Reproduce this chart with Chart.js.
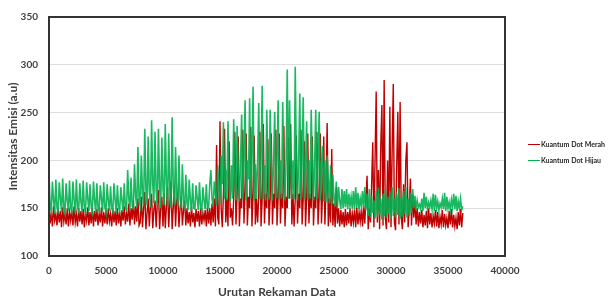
<!DOCTYPE html>
<html>
<head>
<meta charset="utf-8">
<script src="https://cdn.jsdelivr.net/npm/chart.js@4.4.1/dist/chart.umd.min.js"></script>
<style>
  html, body { margin:0; padding:0; background:#fff; }
  #wrap { position:relative; width:613px; height:302px; }
  canvas { position:absolute; left:0; top:0; }
  .leg { position:absolute; left:528px; font-family:Lato, "Open Sans", sans-serif; font-weight:700; font-size:7px; color:#262626; white-space:nowrap; line-height:10px; }
  .leg i { display:inline-block; width:12px; height:0; border-top:1.5px solid; vertical-align:middle; margin-right:1px; position:relative; top:-1px; }
</style>
</head>
<body>
<div id="wrap">
  <canvas id="c" width="613" height="302"></canvas>
  <div class="leg" style="top:139px"><i style="border-color:#C00000"></i>Kuantum Dot Merah</div>
  <div class="leg" style="top:155px"><i style="border-color:#00B050"></i>Kuantum Dot Hijau</div>
</div>
<script>
// ---- data (one value every 100 records) ----
const recordStep = 100;
const seriesNames = ["Kuantum Dot Merah", "Kuantum Dot Hijau"];
const xTicks = [0, 5000, 10000, 15000, 20000, 25000, 30000, 35000, 40000];
const yTicks = [100, 150, 200, 250, 300, 350];

const merah = [
150,134,146,131,152,137,144,132,149,135,147,130,151,136,145,133,150,131,146,137,
148,132,152,135,144,131,150,136,147,133,149,130,145,137,151,132,146,134,150,131,
147,136,149,132,145,135,151,131,146,134,148,133,150,136,144,131,149,135,147,132,
150,134,146,131,148,137,152,133,145,136,155,132,150,138,158,133,152,136,160,132,
135,162,130,150,167,128,145,160,131,152,165,129,148,158,130,155,169,128,150,162,
131,165,129,152,172,130,155,178,128,150,174,131,158,165,130,150,162,132,148,158,
132,150,134,146,131,152,135,145,130,149,136,147,131,150,133,145,137,148,131,151,
134,150,132,155,135,160,131,216,140,133,241,150,130,165,233,135,160,131,220,140,
150,132,160,230,133,165,225,131,160,150,232,134,168,228,132,162,150,235,131,165,
226,133,160,135,165,230,131,160,238,134,165,150,222,132,160,228,133,165,150,232,
132,160,228,134,165,150,236,131,162,150,224,160,238,133,165,131,160,226,134,165,
150,232,133,160,220,131,160,228,134,165,150,225,132,162,150,230,133,160,228,134,
165,225,133,170,239,131,160,135,212,132,155,130,172,134,150,131,148,133,146,130,
149,132,146,134,150,131,145,135,148,130,151,133,146,136,149,131,152,134,160,184,
128,150,135,175,219,130,200,272,135,190,128,215,258,132,284,140,128,200,135,256,
130,210,280,135,127,195,251,133,261,140,128,175,135,200,219,130,150,181,132,165,
140,158,133,150,131,146,134,148,130,143,132,147,129,150,133,145,130,142,134,148,
131,146,129,141,133,148,130,144,132,140,129,147,133,149,130,143,131,140,128,146,
132,149,130,145
];

const hijau = [
186,152,146,178,158,145,180,150,147,177,160,146,181,151,145,176,158,147,179,150,
146,178,159,145,180,151,147,176,157,146,179,150,145,177,160,147,175,152,146,178,
158,145,176,150,147,174,160,146,177,151,145,175,158,147,173,150,146,176,159,145,
174,151,147,172,158,146,176,150,148,190,160,149,182,152,150,196,162,151,214,158,
152,205,165,152,233,170,153,225,168,151,242,175,155,230,168,152,233,172,150,224,
170,153,238,175,152,228,170,150,245,172,154,214,165,152,205,160,150,196,158,148,
185,156,148,180,158,147,176,150,149,174,160,148,177,151,147,172,158,149,175,150,
150,175,190,160,152,178,165,153,195,170,155,205,175,240,160,190,158,241,175,157,
195,160,243,180,158,236,190,157,198,248,160,195,263,158,200,180,265,160,198,277,
158,196,160,200,260,159,198,278,160,195,158,253,200,159,253,196,158,200,251,160,
198,263,159,200,160,261,196,158,200,295,160,263,198,159,200,160,298,196,158,200,
270,159,198,266,160,196,241,158,200,160,253,195,158,198,253,159,196,251,158,195,
215,157,200,156,205,180,155,195,154,185,160,152,178,150,172,158,149,170,150,168,
151,170,149,165,152,162,150,168,148,172,151,166,149,160,152,168,150,172,148,165,
142,170,140,163,145,158,139,168,141,172,143,160,138,165,142,170,140,162,144,168,
139,172,142,160,140,166,143,171,139,162,141,168,144,172,140,160,142,166,145,170,
150,163,148,158,151,154,149,160,147,166,150,162,148,156,151,158,149,165,147,164,
150,157,148,155,151,160,149,166,147,162,150,156,148,159,151,165,149,163,147,157,
150,160,148,152
];

const toPoints = arr => arr.map((v, i) => ({ x: i * recordStep, y: v }));

const framePlugin = {
  id: 'frame',
  afterDatasetsDraw(chart) {
    const { ctx, chartArea: a } = chart;
    ctx.save();
    ctx.strokeStyle = '#333333';
    ctx.lineWidth = 2;
    ctx.strokeRect(a.left, a.top, a.right - a.left, a.bottom - a.top);
    ctx.restore();
  }
};

const tickFont = { family: 'Lato', weight: 'bold', size: 10 };
const titleFont = { family: 'Lato', weight: 'bold', size: 12 };

new Chart(document.getElementById('c'), {
  type: 'line',
  data: {
    datasets: [
      { label: seriesNames[0], data: toPoints(merah), borderColor: '#C00000', borderWidth: 1.4, pointRadius: 0, tension: 0, order: 1 },
      { label: seriesNames[1], data: toPoints(hijau), borderColor: 'rgba(0,176,80,0.9)', borderWidth: 1.6, pointRadius: 0, tension: 0, order: 0 }
    ]
  },
  options: {
    responsive: false,
    devicePixelRatio: 1,
    animation: false,
    parsing: false,
    normalized: true,
    layout: { padding: { top: 9, right: 108, left: 0, bottom: 0 } },
    plugins: { legend: { display: false }, tooltip: { enabled: false } },
    scales: {
      x: {
        type: 'linear', min: 0, max: 40000,
        afterBuildTicks: s => { s.ticks = xTicks.map(v => ({ value: v })); },
        afterFit: s => { s.height = 46; },
        ticks: { font: tickFont, color: '#404040', padding: 9, maxRotation: 0, autoSkip: false, callback: v => String(v) },
        grid: { display: false, drawTicks: false },
        border: { display: false },
        title: { display: true, text: 'Urutan Rekaman Data', font: titleFont, color: '#404040', padding: { top: 0, bottom: 3 } }
      },
      y: {
        min: 100, max: 350,
        afterBuildTicks: s => { s.ticks = yTicks.map(v => ({ value: v })); },
        afterFit: s => { s.width = 49; },
        ticks: { font: tickFont, color: '#404040', padding: 11, callback: v => String(v) },
        grid: { color: '#dedede', drawTicks: false, lineWidth: 1 },
        border: { display: false },
        title: { display: true, text: 'Intensitas Emisi (a.u)', font: titleFont, color: '#404040', padding: { top: 6, bottom: 0 } }
      }
    }
  },
  plugins: [framePlugin]
});
</script>
</body>
</html>
